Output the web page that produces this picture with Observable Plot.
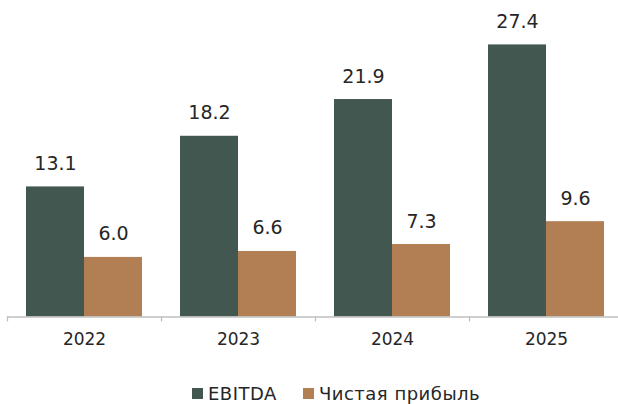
<!DOCTYPE html>
<html><head><meta charset="utf-8">
<script src="https://cdn.jsdelivr.net/npm/d3@7"></script>
<script src="https://cdn.jsdelivr.net/npm/@observablehq/plot@0.6"></script>
<style>
body{margin:0;background:#fff;font-family:"DejaVu Sans",sans-serif;overflow:hidden;}
#legend{display:flex;justify-content:flex-start;padding-left:192px;font-size:18px;line-height:21px;letter-spacing:0.5px;color:#262626;height:22px;align-items:flex-end;}
.item{display:flex;align-items:center;gap:5px;margin-right:26px;}
.sw{width:11px;height:11px;display:inline-block;}
</style></head><body>
<div id="chart"></div>
<div id="legend"></div>
<script>
const years = ["2022", "2023", "2024", "2025"];
const ebitda = [13.1, 18.2, 21.9, 27.4];
const netProfit = [6.0, 6.6, 7.3, 9.6];
const seriesNames = ["EBITDA", "Чистая прибыль"];
const colors = ["#42574f", "#b17f53"];

const rowsE = years.map((y, i) => ({year: y, series: seriesNames[0], value: ebitda[i]}));
const rowsP = years.map((y, i) => ({year: y, series: seriesNames[1], value: netProfit[i]}));

const chart = Plot.plot({
  width: 618,
  height: 382,
  marginLeft: 7,
  marginRight: -5,
  marginTop: 18.6,
  marginBottom: 65.5,
  style: {fontFamily: "DejaVu Sans, sans-serif", color: "#262626", background: "#fff", display: "block"},
  x: {domain: years, padding: 0, label: null},
  y: {domain: [0, 30], axis: null},
  color: {domain: seriesNames, range: colors},
  marks: [
    Plot.barY(rowsE, {x: "year", y: "value", fill: colors[0], insetLeft: 19, insetRight: 77}),
    Plot.barY(rowsP, {x: "year", y: "value", fill: colors[1], insetLeft: 77, insetRight: 19}),
    Plot.text(rowsE, {x: "year", y: "value", text: d => d.value.toFixed(1), dx: -29, dy: -17, lineAnchor: "bottom", fontSize: 19, fill: "#262626"}),
    Plot.text(rowsP, {x: "year", y: "value", text: d => d.value.toFixed(1), dx: 29, dy: -17, lineAnchor: "bottom", fontSize: 19, fill: "#262626"}),
    Plot.ruleY([0], {stroke: "#bfbfbf", strokeWidth: 1.3}),
    Plot.ruleX(years, {x: d => d, dx: -77, y1: 0, y2: -0.5, stroke: "#bfbfbf", strokeWidth: 1.3}),
    Plot.axisX({tickSize: 0, tickPadding: 16, fontSize: 17, fill: "#262626"})
  ]
});
document.getElementById("chart").appendChild(chart);

const lg = document.getElementById("legend");
seriesNames.forEach((n, i) => {
  const it = document.createElement("span");
  it.className = "item";
  const sw = document.createElement("span");
  sw.className = "sw";
  sw.style.background = colors[i];
  it.appendChild(sw);
  it.appendChild(document.createTextNode(n));
  lg.appendChild(it);
});
</script>
</body></html>
